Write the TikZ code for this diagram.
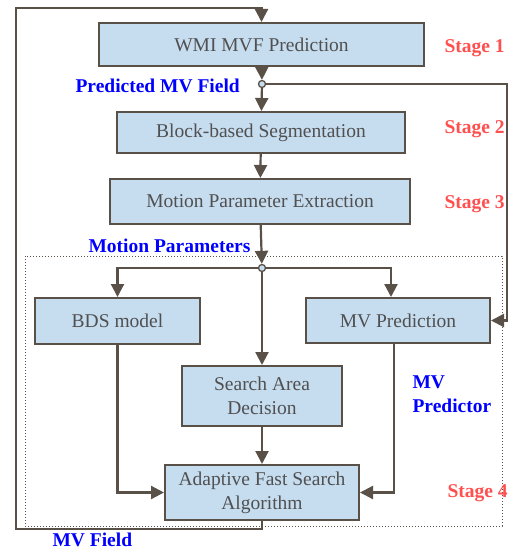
\documentclass[tikz,border=0pt]{standalone}
\usepackage{fontspec}
\setmainfont{Liberation Serif}
\usetikzlibrary{arrows.meta}
\definecolor{boxfill}{HTML}{C6DCEF}
\definecolor{linegray}{HTML}{595048}
\definecolor{txtgray}{HTML}{505050}
\definecolor{stagered}{HTML}{FF4F4F}
\tikzstyle{block}=[rectangle, draw=linegray, line width=2pt, fill=boxfill, text=txtgray, align=center, inner sep=2pt]
\tikzstyle{junc}=[circle, draw=linegray, line width=1.3pt, fill=boxfill, inner sep=0pt, minimum size=7pt]
\tikzstyle{stage}=[anchor=west, text=stagered, font=\bfseries\fontsize{19.5}{22}\selectfont]
\tikzstyle{sig}=[anchor=west, text=blue, align=left, font=\bfseries\fontsize{19.5}{24}\selectfont]
\newcommand{\block}{\node[block]}
\newcommand{\junc}{\node[junc]}

\begin{document}
\begin{tikzpicture}[x=1pt, y=-1pt
  ,font=\fontsize{19.5}{24}\selectfont
  ,every edge/.style={draw=linegray, line width=2.2pt}
  ,flow/.style={draw=linegray, line width=2.2pt, -{Triangle[length=13pt,width=13pt]}}
]
\useasboundingbox (0,0) rectangle (509,551);
\block[minimum width=325pt, minimum height=43pt] (wmi) at (261.5,44.5) {WMI MVF Prediction};
\block[minimum width=288pt, minimum height=41pt] (bbs) at (261,132.5) {Block-based Segmentation};
\block[minimum width=300pt, minimum height=45pt] (mpe) at (260,201.5) {Motion Parameter Extraction};
\block[minimum width=165pt, minimum height=46pt] (bds) at (117.5,321) {BDS model};
\block[minimum width=184pt, minimum height=45pt] (mvp) at (398,320.5) {MV Prediction};
\block[minimum width=160pt, minimum height=60pt] (sad) at (262,396) {Search Area\\Decision};
\block[minimum width=194pt, minimum height=55pt] (afs) at (262,492.5) {Adaptive Fast Search\\Algorithm};
\junc (j1) at (262,84) {};
\junc (j2) at (262,268) {};
\coordinate (rt) at (507,84);
\coordinate (fbl) at (16,529);
\coordinate (fbt) at (16,8);

% stage 4 frame
\draw[linegray, line width=1pt, dotted] (25,256) rectangle (502,526);

\node[stage] (s1) at (441,48) {Stage 1};
\node[stage] (s2) at (441,129) {Stage 2};
\node[stage] (s3) at (441,204) {Stage 3};
\node[stage] (s4) at (444,493) {Stage 4};
\node[sig] (pmv) at (72,86) {Predicted MV Field};
\node[sig] (mpar) at (85,246) {Motion Parameters};
\node[sig] (mvpr) at (409,394) {MV\\Predictor};
\node[sig] (mvf) at (49,540) {MV Field};

\path[flow]
(wmi) edge (j1)
(j1) edge (bbs)
(bbs) edge (mpe)
(mpe) edge (j2)
(j2) edge (sad)
(sad) edge (afs)
;
\draw[flow] (j1) -- (rt) |- (mvp.east);
\draw[flow] (j2) -| (bds.north);
\draw[flow] (j2) -| ([xshift=-7pt]mvp.north);
\draw[flow] (bds.south) |- (afs.west);
\draw[flow] ([xshift=-4pt]mvp.south) |- (afs.east);
\draw[flow] (afs.south) |- (fbl) -- (fbt) -| (wmi.north);
\end{tikzpicture}
\end{document}
